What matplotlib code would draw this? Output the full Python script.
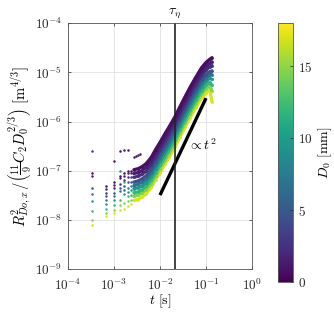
import numpy as np
import matplotlib
matplotlib.use("Agg")
import matplotlib.pyplot as plt
from matplotlib import cm, colors
from matplotlib.transforms import blended_transform_factory

plt.rcParams['mathtext.fontset'] = 'cm'
plt.rcParams['font.family'] = ['DejaVu Serif']

# ---- data ----
D0_mm = [0.7, 1.5, 2.5, 4.5, 7.0, 9.5, 12.0, 14.5, 17.0]

t_early = [0.00033, 0.00067, 0.001, 0.00133, 0.00167, 0.002, 0.00233]
t_late = [0.0027, 0.0033, 0.004, 0.005, 0.0065, 0.008, 0.01, 0.013, 0.016,
          0.021, 0.027, 0.035, 0.045, 0.06, 0.08, 0.1, 0.12, 0.135]

# early scattered values, units 1e-8
early_1 = [9.0, 4.8, 6.0, 8.0, 9.0, 10.0, 10.0]
early_2 = [8.0, 4.2, 5.2, 7.0, 8.0, 9.0, 9.0]
early_3 = [25.0, 3.6, 4.4, 5.5, 6.5, 7.5, 7.5]
early_4 = [4.5, 3.0, 3.6, 4.5, 5.0, 6.0, 6.0]
early_5 = [3.3, 2.6, 3.0, 3.8, 4.0, 4.5, 5.0]
early_6 = [2.4, 2.1, 2.5, 10.0, 3.3, 3.7, 4.0]
early_7 = [1.5, 1.7, 2.0, 2.5, 6.0, 3.0, 3.2]
early_8 = [1.0, 1.4, 1.6, 2.0, 2.2, 2.4, 2.6]
early_9 = [0.78, 1.2, 1.4, 1.6, 1.7, 1.9, 2.1]

# later values, units 1e-7
late_1 = [1.05, 1.1, 1.2, 1.4, 1.9, 2.7, 3.8, 5.8, 8.0, 12.5, 20, 32, 50, 80, 125, 160, 185, 200]
late_2 = [0.88, 0.92, 1.0, 1.18, 1.6, 2.27, 3.2, 4.9, 6.7, 10.5, 16.8, 27, 42, 67, 105, 134, 155, 165]
late_3 = [0.74, 0.77, 0.84, 0.98, 1.33, 1.9, 2.66, 4.06, 5.6, 8.75, 14, 22.4, 35, 56, 87.5, 112, 130, 138]
late_4 = [0.59, 0.62, 0.68, 0.79, 1.07, 1.53, 2.15, 3.28, 4.52, 7.06, 11.3, 18.1, 28.3, 45.2, 70.6, 90.4, 104, 108]
late_5 = [0.50, 0.53, 0.58, 0.67, 0.91, 1.3, 1.82, 2.78, 3.84, 6.0, 9.6, 15.4, 24, 38.4, 60, 76.8, 88.8, 90]
late_6 = [0.43, 0.45, 0.49, 0.57, 0.78, 1.11, 1.56, 2.38, 3.28, 5.13, 8.2, 13.1, 20.5, 32.8, 51.3, 65.6, 75.9, 72]
late_7 = [0.36, 0.37, 0.41, 0.48, 0.65, 0.92, 1.29, 1.97, 2.72, 4.25, 6.8, 10.9, 17, 27.2, 42.5, 54.4, 62.9, 55]
late_8 = [0.30, 0.32, 0.35, 0.41, 0.55, 0.78, 1.1, 1.68, 2.32, 3.63, 5.8, 9.28, 14.5, 23.2, 36.3, 46.4, 53.7, 42]
late_9 = [0.25, 0.26, 0.29, 0.34, 0.46, 0.65, 0.91, 1.39, 1.92, 3.0, 4.8, 7.7, 12, 19.2, 30, 38.4, 44.4, 25]

# isolated purple drop at early times
outlier_D0 = 1.0
outlier_t = [0.001, 0.00133, 0.00167, 0.002, 0.0027, 0.003, 0.0033, 0.0037]
outlier_v = [1.6e-7, 2.5e-7, 2.6e-7, 2.6e-7, 1.9e-7, 2.0e-7, 2.1e-7, 2.2e-7]

tau_eta = 0.021
fit_t = [0.01, 0.1]
fit_v = [3.2e-8, 3.0e-6]

early_all = [early_1, early_2, early_3, early_4, early_5, early_6, early_7, early_8, early_9]
late_all = [late_1, late_2, late_3, late_4, late_5, late_6, late_7, late_8, late_9]

# ---- figure ----
fig = plt.figure(figsize=(3.34, 3.14), dpi=100)
ax = fig.add_axes([0.2036, 0.143, 0.551, 0.783])
cax = fig.add_axes([0.832, 0.102, 0.045, 0.825])

norm = colors.Normalize(vmin=0, vmax=18)
cmap = plt.get_cmap('viridis')

for d, e, l in reversed(list(zip(D0_mm, early_all, late_all))):
    c = cmap(norm(d))
    ax.plot(t_early, np.array(e) * 1e-8, linestyle='none', marker='o',
            markersize=1.8, markeredgewidth=0, color=c)
    ax.plot(t_late, np.array(l) * 1e-7, linestyle='-', linewidth=2.3,
            marker='o', markersize=2.0, markeredgewidth=0, color=c,
            solid_capstyle='round')
ax.plot(outlier_t, outlier_v, linestyle='none', marker='o', markersize=1.8,
        markeredgewidth=0, color=cmap(norm(outlier_D0)))

ax.plot(fit_t, fit_v, color='black', linewidth=2.4, solid_capstyle='butt')
ax.axvline(tau_eta, color='#222222', linewidth=1.2)

ax.set_xscale('log')
ax.set_yscale('log')
ax.set_xlim(1e-4, 1e0)
ax.set_ylim(1e-9, 1e-4)
ax.set_xticks([1e-4, 1e-3, 1e-2, 1e-1, 1e0])
ax.set_yticks([1e-9, 1e-8, 1e-7, 1e-6, 1e-5, 1e-4])
ax.set_xticklabels([r'$10^{-4}$', r'$10^{-3}$', r'$10^{-2}$', r'$10^{-1}$', r'$10^{0}$'])
ax.set_yticklabels([r'$10^{-9}$', r'$10^{-8}$', r'$10^{-7}$', r'$10^{-6}$', r'$10^{-5}$', r'$10^{-4}$'])
ax.minorticks_off()
ax.tick_params(which='both', direction='in', top=True, right=True, length=2.5,
               width=0.5, labelsize=9.5, colors='#262626')
ax.tick_params(axis='x', pad=6)
ax.tick_params(axis='y', pad=4)
ax.grid(True, which='major', color='#e0e0e0', linewidth=0.6)
for s in ax.spines.values():
    s.set_color('#555555')
    s.set_linewidth(0.6)

ax.set_xlabel(r'$t\ [\mathrm{s}]$', fontsize=10, labelpad=0)
ax.set_ylabel(r'$R^2_{Do,x}\,/\left(\frac{11}{9}C_2D_0^{2/3}\right)\ [\mathrm{m}^{4/3}]$',
              fontsize=10.5, labelpad=1)

trans = blended_transform_factory(ax.transData, ax.transAxes)
ax.text(tau_eta, 1.015, r'$\tau_\eta$', transform=trans, ha='center', va='bottom', fontsize=10)
ax.text(0.041, 3.3e-7, r'$\propto t^2$', ha='left', va='center', fontsize=10)

sm = cm.ScalarMappable(norm=norm, cmap=cmap)
cb = fig.colorbar(sm, cax=cax, ticks=[0, 5, 10, 15])
cb.ax.set_yticklabels([r'$0$', r'$5$', r'$10$', r'$15$'])
cb.ax.tick_params(direction='in', length=2.5, width=0.5, labelsize=9.5, colors='#262626')
cb.outline.set_edgecolor('#555555')
cb.outline.set_linewidth(0.6)
cb.set_label(r'$D_0\ [\mathrm{mm}]$', fontsize=10, labelpad=3)

fig.savefig('out.png', dpi=100)
